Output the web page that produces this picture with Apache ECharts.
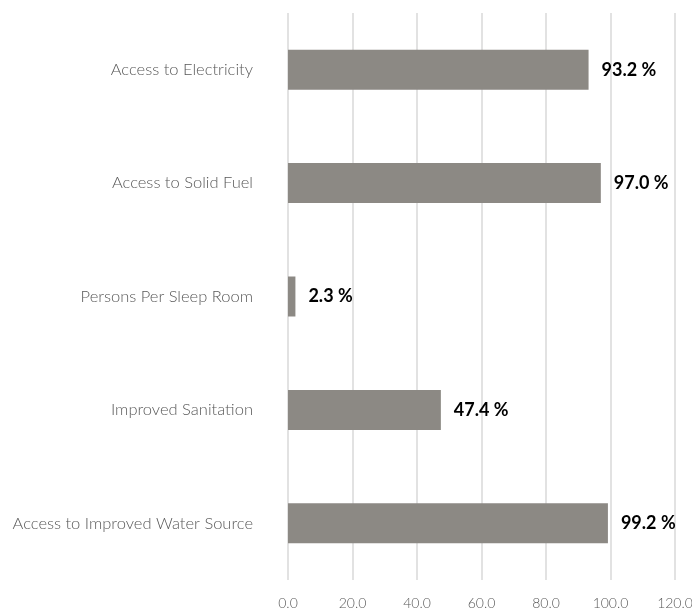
<!DOCTYPE html>
<html>
<head>
<meta charset="utf-8">
<script src="https://cdn.jsdelivr.net/npm/echarts@6/dist/echarts.min.js"></script>
<style>
  html, body { margin: 0; padding: 0; background: #fff; }
  #chart { width: 692px; height: 613px; }
</style>
</head>
<body>
<div id="chart"></div>
<script>
// Indicators listed bottom to top (category axis runs upward)
const categories = [
  'Access to Improved Water Source',
  'Improved Sanitation',
  'Persons Per Sleep Room',
  'Access to Solid Fuel',
  'Access to Electricity'
];
const values = [99.2, 47.4, 2.3, 97.0, 93.2];

const chart = echarts.init(document.getElementById('chart'));
chart.setOption({
  animation: false,
  grid: {
    left: 288, right: 17, top: 13, bottom: 33,
    containLabel: false,
    outerBoundsMode: 'none'
  },
  xAxis: {
    type: 'value',
    min: 0,
    max: 120,
    interval: 20,
    axisLine: { show: false },
    axisTick: { show: false },
    splitLine: { lineStyle: { color: '#d9d9d9', width: 1.5 } },
    axisLabel: {
      margin: 16,
      color: '#595959',
      fontFamily: 'Lato',
      fontWeight: 300,
      fontSize: 14,
      formatter: v => v.toFixed(1)
    }
  },
  yAxis: {
    type: 'category',
    data: categories,
    axisLine: { show: false },
    axisTick: { show: false },
    axisLabel: {
      margin: 35,
      color: '#595959',
      fontFamily: 'Lato',
      fontWeight: 300,
      fontSize: 16.5
    }
  },
  series: [{
    type: 'bar',
    data: values,
    barWidth: 40,
    itemStyle: { color: '#8c8984' },
    label: {
      show: true,
      position: 'right',
      distance: 13,
      color: '#000',
      fontFamily: 'Lato',
      fontWeight: 'bold',
      fontSize: 18,
      formatter: p => p.value.toFixed(1) + ' %'
    }
  }]
});
</script>
</body>
</html>
